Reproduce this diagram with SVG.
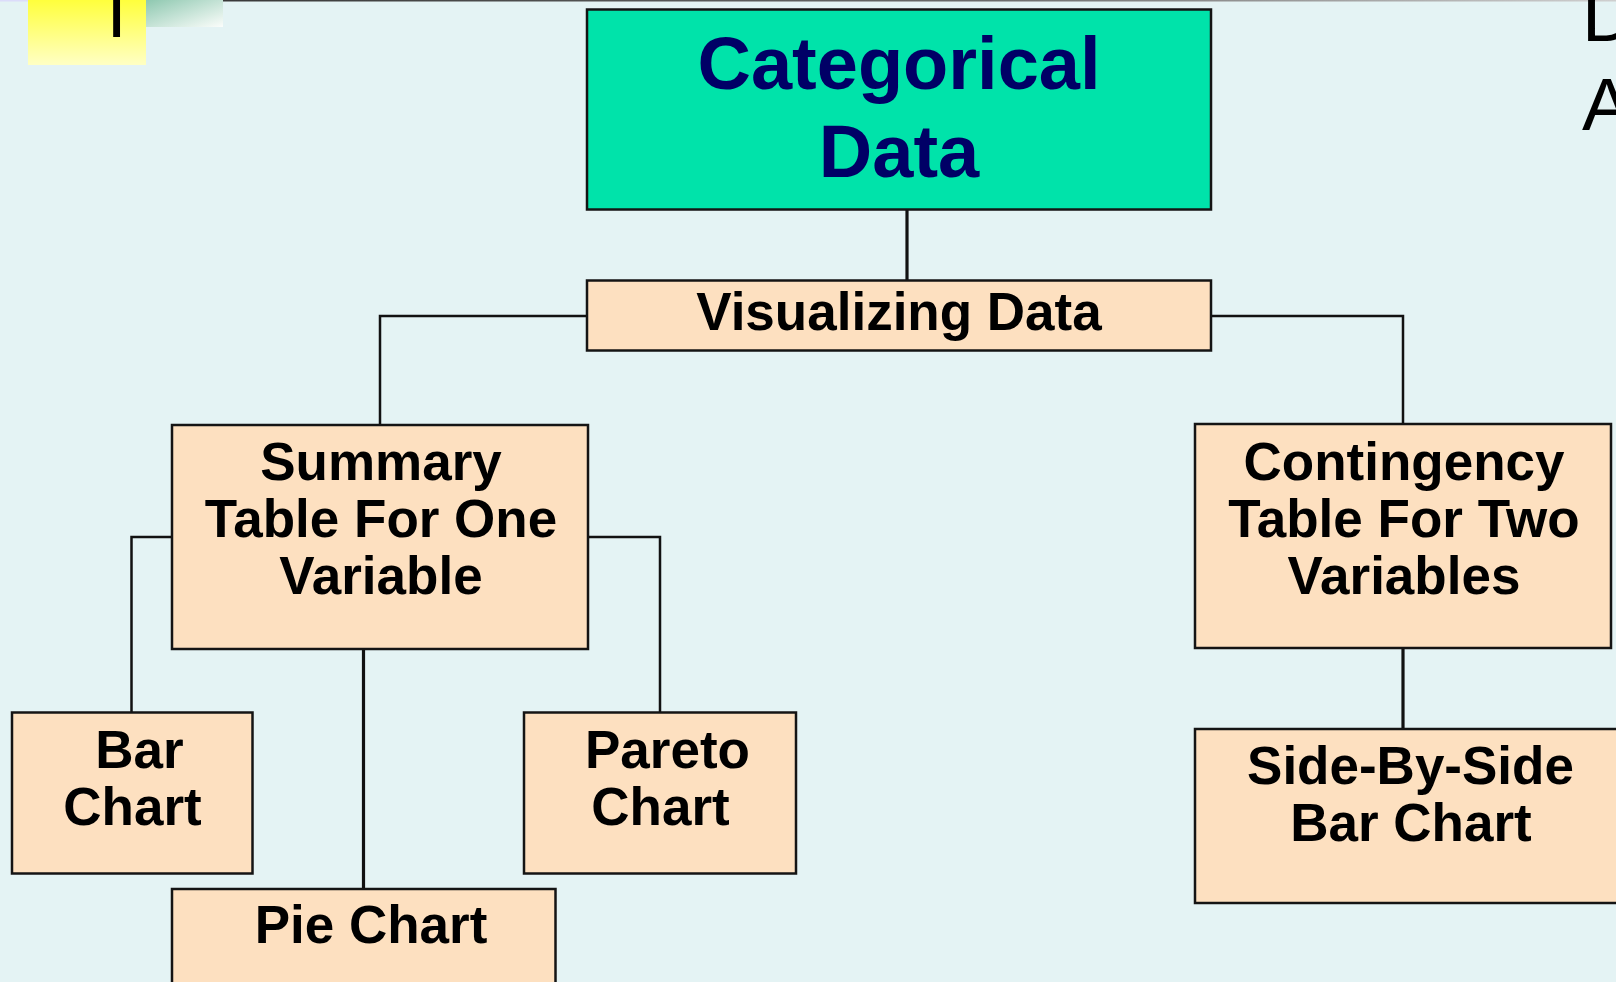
<svg xmlns="http://www.w3.org/2000/svg" width="1616" height="982" viewBox="0 0 1616 982">
  <defs>
    <linearGradient id="yellowFade" x1="0" y1="0" x2="0" y2="1">
      <stop offset="0" stop-color="#ffff3c"/>
      <stop offset="1" stop-color="#ffffc4"/>
    </linearGradient>
    <linearGradient id="greenFade" x1="0" y1="0" x2="1" y2="1">
      <stop offset="0" stop-color="#8ec8b0"/>
      <stop offset="1" stop-color="#fbfdfb"/>
    </linearGradient>
    <linearGradient id="topRule" x1="0" y1="0" x2="1" y2="0">
      <stop offset="0" stop-color="#2e2e2e"/>
      <stop offset="0.6" stop-color="#6a6a6a"/>
      <stop offset="1" stop-color="#cfcfcf"/>
    </linearGradient>
    <style>
      .box { fill: #fde0c0; stroke: #141414; stroke-width: 2.5; }
      .head { fill: #00e3aa; stroke: #141414; stroke-width: 2.5; }
      .lbl { font-family: "Liberation Sans", Arial, sans-serif; font-weight: bold; fill: #000; text-anchor: middle; font-size: 53px; }
      .title { font-family: "Liberation Sans", Arial, sans-serif; font-weight: bold; fill: #000066; text-anchor: middle; font-size: 74px; }
      .edge { fill: none; stroke: #111; stroke-width: 2.5; }
      .edge-thick { fill: none; stroke: #111; stroke-width: 3.2; }
      .side { font-family: "Liberation Sans", Arial, sans-serif; font-size: 74px; fill: #000; }
    </style>
  </defs>

  <!-- page background -->
  <rect x="0" y="0" width="1616" height="982" fill="#e4f3f4"/>

  <!-- slide decorations along the top edge -->
  <rect x="0" y="0" width="46" height="1.5" fill="#dcdcfa"/>
  <rect x="46" y="0" width="1570" height="1.5" fill="url(#topRule)"/>
  <rect x="28" y="0" width="118" height="65" fill="url(#yellowFade)"/>
  <rect x="146" y="0" width="77" height="27" fill="url(#greenFade)"/>
  <text class="side" x="116.5" y="37" text-anchor="middle" font-size="80">T</text>
  <text class="side" x="1582" y="41">D</text>
  <text class="side" x="1582" y="130">A</text>

  <!-- connectors -->
  <g id="connectors">
    <path class="edge-thick" d="M907 209 V280"/>
    <path class="edge" d="M587 316 H380 V425"/>
    <path class="edge" d="M1211 316 H1403 V424"/>
    <path class="edge" d="M172 537 H131.5 V712"/>
    <path class="edge" d="M588 537 H660 V712"/>
    <path class="edge-thick" d="M363.5 649 V889"/>
    <path class="edge-thick" d="M1403 648 V729"/>
  </g>

  <g id="categorical-data">
    <rect class="head" x="587" y="9.5" width="624" height="200"/>
    <text class="title" x="899" y="89">Categorical</text>
    <text class="title" x="899" y="177">Data</text>
  </g>

  <g id="visualizing-data">
    <rect class="box" x="587" y="280.5" width="624" height="70"/>
    <text class="lbl" x="899" y="330">Visualizing Data</text>
  </g>

  <g id="summary-table">
    <rect class="box" x="172" y="425" width="416" height="224"/>
    <text class="lbl" x="381" y="480">Summary</text>
    <text class="lbl" x="381" y="537">Table For One</text>
    <text class="lbl" x="381" y="594">Variable</text>
  </g>

  <g id="contingency-table">
    <rect class="box" x="1195" y="424" width="416" height="224"/>
    <text class="lbl" x="1404" y="480">Contingency</text>
    <text class="lbl" x="1404" y="537">Table For Two</text>
    <text class="lbl" x="1404" y="594">Variables</text>
  </g>

  <g id="bar-chart">
    <rect class="box" x="12" y="712.5" width="240.5" height="161"/>
    <text class="lbl" x="139.5" y="768">Bar</text>
    <text class="lbl" x="132.5" y="825">Chart</text>
  </g>

  <g id="pareto-chart">
    <rect class="box" x="524" y="712.5" width="272" height="161"/>
    <text class="lbl" x="667.5" y="768">Pareto</text>
    <text class="lbl" x="660.5" y="825">Chart</text>
  </g>

  <g id="pie-chart">
    <rect class="box" x="172" y="889" width="383.5" height="120"/>
    <text class="lbl" x="371" y="943">Pie Chart</text>
  </g>

  <g id="side-by-side-bar-chart">
    <rect class="box" x="1195" y="729" width="440" height="174"/>
    <text class="lbl" x="1410.5" y="784">Side-By-Side</text>
    <text class="lbl" x="1411" y="841">Bar Chart</text>
  </g>
</svg>
